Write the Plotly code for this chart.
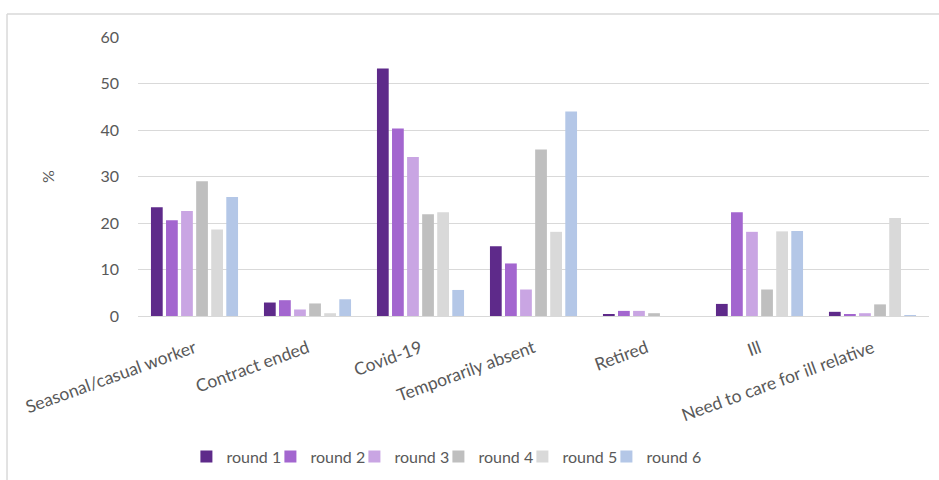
import plotly.graph_objects as go

categories = [
    "Seasonal/casual worker",
    "Contract ended",
    "Covid-19",
    "Temporarily absent",
    "Retired",
    "Ill",
    "Need to care for ill relative",
]

series_names = ["round 1", "round 2", "round 3", "round 4", "round 5", "round 6"]

round_1 = [23.4, 2.9, 53.2, 15.0, 0.4, 2.6, 0.9]
round_2 = [20.6, 3.4, 40.3, 11.3, 1.1, 22.3, 0.3]
round_3 = [22.6, 1.4, 34.2, 5.7, 1.1, 18.1, 0.6]
round_4 = [29.0, 2.7, 21.9, 35.8, 0.6, 5.7, 2.5]
round_5 = [18.6, 0.6, 22.3, 18.1, 0.0, 18.2, 21.1]
round_6 = [25.6, 3.6, 5.6, 44.0, 0.0, 18.3, 0.2]

series_values = [round_1, round_2, round_3, round_4, round_5, round_6]
colors = ["#5E2A8A", "#A366CF", "#C9A5E3", "#BFBFBF", "#D9D9D9", "#B4C7E7"]

y_ticks = [0, 10, 20, 30, 40, 50, 60]

FONT = "Lato, 'Open Sans', sans-serif"
TEXT_GREY = "#595959"
GRID = "#D9D9D9"

fig = go.Figure()
for name, vals, col in zip(series_names, series_values, colors):
    fig.add_trace(go.Bar(
        x=categories,
        y=vals,
        name=name,
        marker=dict(color=col, line=dict(width=0)),
    ))

# transparent spacer entry so the last legend label is not clipped
fig.add_trace(go.Scatter(
    x=[None], y=[None], name=" ", mode="markers",
    marker=dict(color="rgba(0,0,0,0)"), hoverinfo="skip",
))

fig.update_layout(
    width=939,
    height=480,
    margin=dict(l=138, r=10, t=37, b=164, autoexpand=False),
    paper_bgcolor="white",
    plot_bgcolor="white",
    barmode="group",
    bargap=0.2,
    bargroupgap=0.22,
    font=dict(family=FONT, size=16, color=TEXT_GREY),
    showlegend=True,
    legend=dict(
        orientation="h",
        x=0.0612,
        xanchor="left",
        y=-0.504,
        yanchor="middle",
        font=dict(family=FONT, size=16, color=TEXT_GREY),
        entrywidth=39,
        entrywidthmode="pixels",
        bgcolor="rgba(0,0,0,0)",
    ),
    xaxis=dict(
        tickangle=-20,
        tickfont=dict(family=FONT, size=17.5, color=TEXT_GREY),
        showgrid=False,
        showline=False,
        ticks="",
        ticklabelstandoff=18,
        automargin=False,
    ),
    yaxis=dict(
        range=[0, 60],
        tickvals=y_ticks,
        tickfont=dict(family=FONT, size=16, color=TEXT_GREY),
        showgrid=True,
        gridcolor=GRID,
        gridwidth=1,
        zeroline=True,
        zerolinecolor=GRID,
        zerolinewidth=1,
        showline=False,
        ticks="",
        ticklabelstandoff=18,
        automargin=False,
        title=dict(text="%", font=dict(family=FONT, size=16, color=TEXT_GREY), standoff=41),
    ),
    shapes=[
        dict(type="line", xref="paper", yref="paper",
             x0=-0.1656, x1=-0.1656, y0=1.0824, y1=-0.6,
             line=dict(color=GRID, width=1.5)),
        dict(type="line", xref="paper", yref="paper",
             x0=-0.1656, x1=1.02, y0=1.0824, y1=1.0824,
             line=dict(color=GRID, width=1.5)),
    ],
)

fig.write_html("out.html")
